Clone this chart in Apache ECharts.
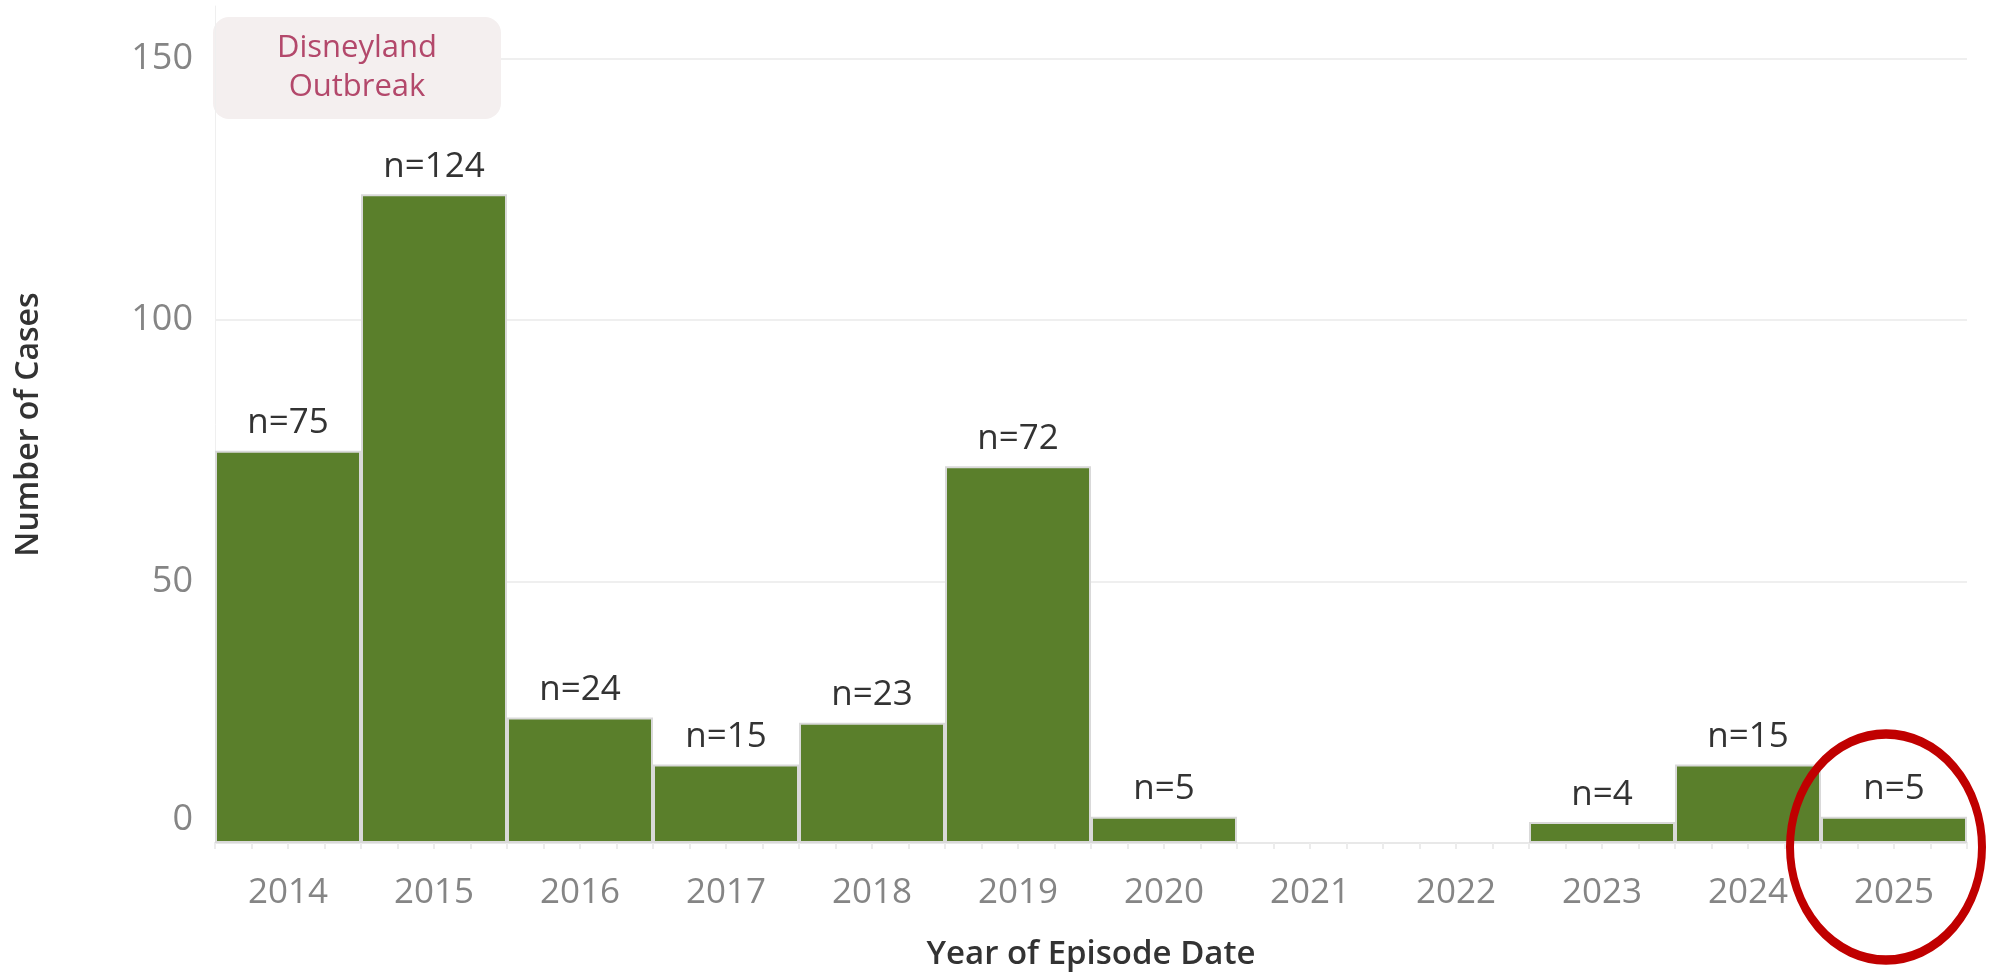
<!DOCTYPE html>
<html>
<head>
<meta charset="utf-8">
<title>Cases by Year of Episode Date</title>
<script src="https://cdn.jsdelivr.net/npm/echarts@6/dist/echarts.min.js"></script>
<style>
  html, body { margin: 0; padding: 0; background: #fff; }
  #main { width: 1990px; height: 976px; }
</style>
</head>
<body>
<div id="main"></div>
<script>
// values
var years = ['2014', '2015', '2016', '2017', '2018', '2019', '2020', '2021', '2022', '2023', '2024', '2025'];
var cases = [75, 124, 24, 15, 23, 72, 5, null, null, 4, 15, 5];
var yTicks = [0, 50, 100, 150];
var highlightYear = '2025';

var chartDom = document.getElementById('main');
var myChart = echarts.init(chartDom);
var option;

option = {
  animation: false,
  textStyle: { fontFamily: 'Open Sans' },
  grid: { left: 215, right: 23, top: 6, bottom: 130 },
  xAxis: [
    {
      type: 'category',
      data: years,
      axisLine: { lineStyle: { color: '#e8e8e8', width: 2 } },
      axisTick: { alignWithLabel: true, length: 12, lineStyle: { color: '#e6e6e6', width: 2 } },
      axisLabel: { color: '#858585', fontSize: 35, margin: 33 },
      name: 'Year of Episode Date',
      nameLocation: 'middle',
      nameGap: 95,
      nameTextStyle: { color: '#333', fontSize: 33, fontWeight: 600 }
    },
    {
      // quarter ticks along the base, as in the original
      type: 'value',
      position: 'bottom',
      min: 0,
      max: years.length,
      interval: 0.25,
      axisLine: { show: false },
      axisTick: { length: 6, lineStyle: { color: '#ececec', width: 2 } },
      axisLabel: { show: false },
      splitLine: { show: false }
    }
  ],
  yAxis: {
    type: 'value',
    min: 0,
    max: 160,
    interval: 50,
    axisLine: { show: true, lineStyle: { color: '#efefef', width: 1 } },
    axisTick: { show: false },
    axisLabel: {
      color: '#858585',
      fontSize: 36,
      margin: 22,
      formatter: function (v) {
        if (yTicks.indexOf(v) < 0) return '';
        return v === 0 ? '{z|0}' : String(v);
      },
      rich: {
        z: { color: '#858585', fontSize: 36, padding: [0, 0, 46, 0] }
      }
    },
    splitLine: {
      lineStyle: {
        color: ['#efefef', '#efefef', '#efefef', '#efefef', 'rgba(0,0,0,0)'],
        width: 2
      }
    },
    name: 'Number of Cases',
    nameLocation: 'middle',
    nameGap: 170,
    nameTextStyle: { color: '#333', fontSize: 32, fontWeight: 600 }
  },
  series: [
    {
      name: 'Cases',
      type: 'bar',
      xAxisIndex: 0,
      barCategoryGap: '0%',
      data: cases,
      itemStyle: { color: '#5a7f2b', borderColor: '#d9d9d9', borderWidth: 2 },
      label: {
        show: true,
        position: 'top',
        distance: 10,
        color: '#333',
        fontSize: 35,
        formatter: function (p) { return 'n=' + p.value; }
      }
    }
  ]
};

option && myChart.setOption(option);

// annotation box, and a red ring round the latest (partial) year
var c = myChart.convertToPixel({ xAxisIndex: 0, yAxisIndex: 0 }, [highlightYear, 0]);
myChart.setOption({
  graphic: [
    {
      id: 'note',
      type: 'group',
      x: 213,
      y: 17,
      children: [
        {
          type: 'rect',
          shape: { x: 0, y: 0, width: 288, height: 102, r: 16 },
          style: { fill: '#f4efef' }
        },
        {
          type: 'text',
          x: 144,
          y: 51,
          style: {
            text: 'Disneyland\nOutbreak',
            fill: '#b3486b',
            font: '31px "Open Sans"',
            lineHeight: 39,
            align: 'center',
            verticalAlign: 'middle'
          }
        }
      ]
    },
    {
      id: 'ring',
      type: 'circle',
      z: 100,
      x: c[0] - 8,
      y: c[1] + 4,
      scaleY: 113 / 96,
      shape: { cx: 0, cy: 0, r: 96 },
      style: { fill: 'none', stroke: '#c00000', lineWidth: 8, strokeNoScale: true }
    }
  ]
});
</script>
</body>
</html>
